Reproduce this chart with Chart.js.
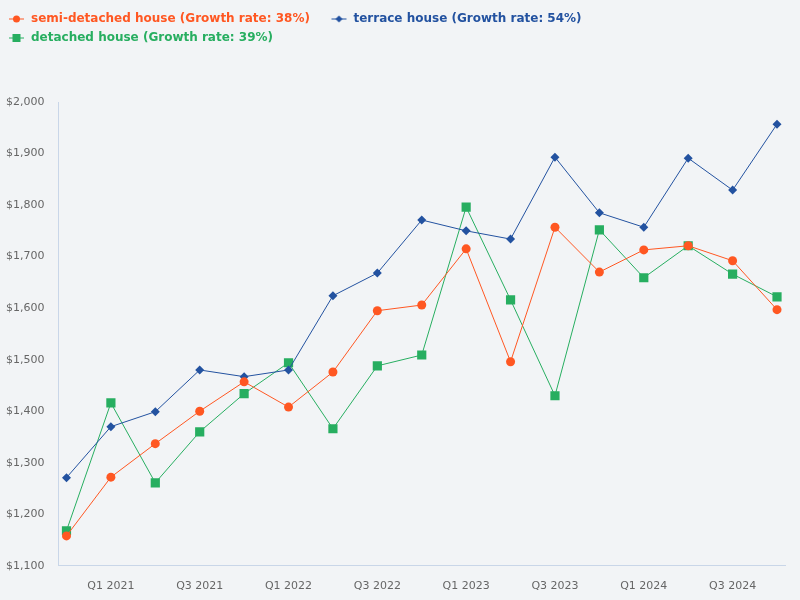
<!DOCTYPE html>
<html>
<head>
<meta charset="utf-8">
<script src="https://cdn.jsdelivr.net/npm/chart.js@4.4.1/dist/chart.umd.min.js"></script>
<style>
  html, body { margin:0; padding:0; background:#f2f4f6; }
  #wrap { width:800px; height:600px; }
</style>
</head>
<body>
<div id="wrap"><canvas id="c" width="800" height="600"></canvas></div>
<script>
'use strict';
const quarters = ['Q4 2020','Q1 2021','Q2 2021','Q3 2021','Q4 2021','Q1 2022','Q2 2022','Q3 2022','Q4 2022',
  'Q1 2023','Q2 2023','Q3 2023','Q4 2023','Q1 2024','Q2 2024','Q3 2024','Q4 2024'];
const semiDetached = [1158,1272,1337,1400,1457,1408,1476,1595,1606,1715,1496,1757,1670,1713,1721,1692,1597];
const terrace      = [1271,1370,1399,1480,1467,1480,1624,1668,1771,1750,1734,1893,1785,1757,1891,1829,1957];
const detached     = [1168,1416,1261,1360,1434,1494,1366,1488,1509,1796,1616,1430,1752,1659,1721,1666,1622];
const seriesNames  = ['semi-detached house','terrace house','detached house'];
const yTicks = [1100,1200,1300,1400,1500,1600,1700,1800,1900,2000];

const colors = ['#ff5722','#2352a0','#27ae60'];
const styles = ['circle','rectRot','rect'];
const radii  = [4.5,4.5,6.5];

function growth(arr){ return Math.round((arr[arr.length-1]/arr[0]-1)*100); }

// small legend icon: line with the marker in the middle (2px blank on the left)
function legendIcon(color, style){
  const cv = document.createElement('canvas');
  cv.width = 18; cv.height = 10;
  const g = cv.getContext('2d');
  g.strokeStyle = color; g.fillStyle = color; g.lineWidth = 1;
  g.beginPath(); g.moveTo(2,5); g.lineTo(17,5); g.stroke();
  g.beginPath();
  if (style==='circle') g.arc(9.5,5,3.5,0,Math.PI*2);
  else if (style==='rect') g.rect(5.5,1,8,8);
  else { g.moveTo(9.5,1.5); g.lineTo(13,5); g.lineTo(9.5,8.5); g.lineTo(6,5); g.closePath(); }
  g.fill();
  return cv;
}

const allSeries = [semiDetached, terrace, detached];
const datasets = allSeries.map((arr,k)=>({
  label: `${seriesNames[k]} (Growth rate: ${growth(arr)}%)`,
  data: arr.map((v,i)=>({x:i, y:v})),
  borderColor: colors[k], backgroundColor: colors[k],
  borderWidth: 1, pointStyle: styles[k], pointRadius: radii[k],
  pointBorderWidth: 0, tension: 0, fill: false
}));

const legendGap = {
  id:'legendGap',
  beforeInit(chart){
    const fit = chart.legend.fit;
    chart.legend.fit = function(){ fit.bind(chart.legend)(); this.height += 48; };
  }
};

new Chart(document.getElementById('c'), {
  type:'line',
  data:{ datasets },
  plugins:[legendGap],
  options:{
    responsive:false, animation:false,
    layout:{ padding:{ left:0, right:15, top:6, bottom:1 } },
    plugins:{
      tooltip:{ enabled:false },
      legend:{
        position:'top', align:'start',
        labels:{
          usePointStyle:true, pointStyleWidth:18, padding:7,
          font:{ family:'DejaVu Sans', size:12, weight:'bold' },
          generateLabels(chart){
            return chart.data.datasets.map((ds,i)=>({
              // a little extra room after the text, like the original layout
              text: ds.label + '   ', fontColor: colors[i], pointStyle: legendIcon(colors[i], styles[i]),
              fillStyle: colors[i], strokeStyle: colors[i], lineWidth:0, datasetIndex:i, hidden:false
            }));
          }
        }
      }
    },
    scales:{
      x:{
        type:'linear', min:-0.18, max:16.18,
        grid:{ display:false },
        border:{ display:true, color:'#c9d6e8' },
        afterBuildTicks(scale){
          scale.ticks = quarters.map((q,i)=>({value:i})).filter(t=>t.value%2===1);
        },
        ticks:{
          autoSkip:false, maxRotation:0, padding:6, color:'#666',
          font:{ family:'DejaVu Sans', size:11 },
          callback:(v)=>quarters[v]
        }
      },
      y:{
        min:yTicks[0], max:yTicks[yTicks.length-1],
        grid:{ display:false },
        border:{ display:true, color:'#c9d6e8' },
        afterBuildTicks(scale){ scale.ticks = yTicks.map(v=>({value:v})); },
        ticks:{
          padding:6, color:'#666',
          font:{ family:'DejaVu Sans', size:11 },
          callback:(v)=>'$'+v.toLocaleString('en-US')
        }
      }
    }
  }
});
</script>
</body>
</html>
